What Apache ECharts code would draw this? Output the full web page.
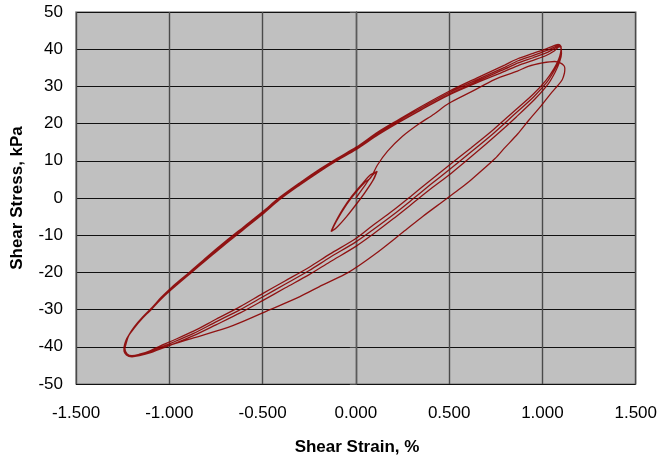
<!DOCTYPE html>
<html>
<head>
<meta charset="utf-8">
<script src="https://cdn.jsdelivr.net/npm/echarts@6/dist/echarts.min.js"></script>
<style>
html,body{margin:0;padding:0;background:#fff;}
#chart{width:660px;height:457px;}
</style>
</head>
<body>
<div id="chart"></div>
<script>
// Axis ticks
const xTicks = [-1.5, -1.0, -0.5, 0.0, 0.5, 1.0, 1.5];
const yTicks = [-50, -40, -30, -20, -10, 0, 10, 20, 30, 40, 50];

// Small-strain cycles around the origin
const smallLoop = [[0,0],[0.04,2.8],[0.08,5.6],[0.105,6.9],[0.114,7.2],[0.095,5.0],[0.05,1.6],[0,-1.8],[-0.05,-5.0],[-0.10,-7.8],[-0.125,-8.8],[-0.133,-9.0],[-0.115,-7.0],[-0.07,-3.0],[-0.02,0.6],[0.03,3.6],[0.08,6.3],[0.112,7.1],[0.09,4.6],[0.045,1.2],[-0.01,-2.5],[-0.06,-5.6],[-0.11,-8.3],[-0.13,-8.9],[-0.105,-6.3],[-0.05,-1.8],[0.0,1.5],[0.05,4.3]];

// First large loading
const virginLoad = [[0.079,5.4],[0.115,8.8],[0.17,12.6],[0.25,16.6],[0.337,19.9],[0.42,22.6],[0.497,25.4],[0.62,28.6],[0.746,31.9],[0.866,34.1],[0.924,35.4],[1.00,36.3],[1.066,36.7],[1.095,36.3],[1.115,35.6],[1.12,34.8]];

// First unloading (outer thin branch)
const outerUnload = [[1.118,33.6],[1.106,31.8],[1.08,30.1],[1.05,28.4],[0.995,24.9],[0.93,21.1],[0.867,17.2],[0.80,13.6],[0.746,10.6],[0.62,5.0],[0.55,2.2],[0.47,-0.8],[0.36,-4.9],[0.25,-9.3],[0.10,-15.2],[-0.04,-20.0],[-0.18,-23.4],[-0.30,-26.5],[-0.46,-30.0],[-0.66,-34.3],[-0.87,-37.6],[-1.05,-40.4],[-1.13,-41.8],[-1.19,-42.6],[-1.225,-42.3],[-1.242,-41.3]];

// Reloading branches
const up1 = [[-1.243,-40.6],[-1.228,-37.8],[-1.195,-35.3],[-1.155,-32.8],[-1.10,-30.2],[-1.05,-27.5],[-0.99,-24.7],[-0.89,-20.4],[-0.80,-16.6],[-0.70,-12.4],[-0.60,-8.4],[-0.50,-4.4],[-0.41,-0.5],[-0.30,3.5],[-0.195,7.1],[-0.10,10.1],[0,13.0],[0.12,17.0],[0.23,20.3],[0.35,23.7],[0.50,27.7],[0.65,31.0],[0.80,34.1],[0.87,35.6],[0.95,37.0],[1.02,38.3],[1.065,39.6],[1.09,40.6],[1.10,40.4]];
const up2 = [[-1.24,-40.4],[-1.224,-37.5],[-1.19,-35.1],[-1.15,-32.7],[-1.098,-30.0],[-1.049,-27.3],[-0.99,-24.5],[-0.89,-20.2],[-0.80,-16.4],[-0.70,-12.2],[-0.60,-8.2],[-0.50,-4.2],[-0.41,-0.4],[-0.30,3.6],[-0.195,7.2],[-0.10,10.2],[0,13.1],[0.12,17.1],[0.23,20.4],[0.35,23.8],[0.50,27.9],[0.65,31.4],[0.80,34.7],[0.87,36.3],[0.95,37.7],[1.02,39.0],[1.065,40.2],[1.09,41.0],[1.10,40.6]];
const up3 = [[-1.238,-40.2],[-1.22,-37.3],[-1.188,-34.8],[-1.148,-32.4],[-1.095,-29.7],[-1.046,-27.0],[-0.988,-24.2],[-0.888,-19.9],[-0.80,-16.1],[-0.70,-11.9],[-0.60,-7.9],[-0.50,-3.9],[-0.41,-0.1],[-0.30,3.9],[-0.195,7.5],[-0.10,10.5],[0,13.4],[0.12,17.5],[0.23,20.8],[0.35,24.2],[0.50,28.3],[0.65,31.8],[0.80,35.2],[0.87,36.9],[0.95,38.3],[1.02,39.6],[1.065,40.6],[1.09,41.2],[1.10,40.7]];
const up4 = [[-1.236,-40.0],[-1.218,-37.0],[-1.186,-34.5],[-1.145,-32.1],[-1.092,-29.4],[-1.043,-26.7],[-0.985,-23.9],[-0.886,-19.7],[-0.80,-15.9],[-0.70,-11.7],[-0.60,-7.7],[-0.50,-3.7],[-0.41,0.1],[-0.30,4.1],[-0.195,7.7],[-0.10,10.7],[0,13.6],[0.12,17.8],[0.23,21.1],[0.35,24.6],[0.50,28.7],[0.65,32.3],[0.80,35.8],[0.87,37.5],[0.95,38.9],[1.02,40.1],[1.065,41.0],[1.085,41.3],[1.097,40.9]];

// Unloading branches
const down1 = [[1.10,40.4],[1.102,38.8],[1.092,36.6],[1.068,33.8],[1.03,30.6],[0.96,26.6],[0.86,21.8],[0.75,16.8],[0.63,11.6],[0.51,6.6],[0.40,2.4],[0.30,-1.6],[0.20,-5.6],[0.09,-9.8],[0,-13.0],[-0.14,-17.2],[-0.25,-20.6],[-0.38,-24.2],[-0.50,-27.6],[-0.62,-30.9],[-0.75,-34.1],[-0.87,-37.0],[-0.99,-39.5],[-1.05,-40.6],[-1.10,-41.6],[-1.16,-42.4],[-1.20,-42.7],[-1.23,-42.2],[-1.243,-40.8]];
const down2 = [[1.097,40.6],[1.10,39.0],[1.09,37.0],[1.065,34.4],[1.025,31.2],[0.955,27.3],[0.85,22.5],[0.74,17.5],[0.62,12.5],[0.50,7.6],[0.40,3.6],[0.30,-0.5],[0.20,-4.5],[0.09,-8.6],[0,-11.8],[-0.14,-16.0],[-0.25,-19.5],[-0.38,-23.2],[-0.50,-26.6],[-0.62,-30.0],[-0.75,-33.3],[-0.87,-36.4],[-0.99,-39.0],[-1.05,-40.2],[-1.10,-41.3],[-1.16,-42.2],[-1.20,-42.6],[-1.228,-42.1],[-1.24,-40.6]];
const down3 = [[1.097,40.7],[1.098,39.2],[1.087,37.3],[1.062,34.8],[1.02,31.7],[0.95,27.9],[0.845,23.2],[0.735,18.3],[0.615,13.4],[0.495,8.6],[0.395,4.6],[0.295,0.5],[0.195,-3.5],[0.085,-7.6],[0,-10.9],[-0.14,-15.1],[-0.25,-18.6],[-0.38,-22.3],[-0.50,-25.7],[-0.62,-29.2],[-0.75,-32.6],[-0.87,-35.8],[-0.99,-38.5],[-1.05,-39.8],[-1.10,-41.0],[-1.16,-42.0],[-1.20,-42.4],[-1.226,-41.9],[-1.238,-40.4]];

const path = [].concat(smallLoop, virginLoad, outerUnload, up1, down1, up2, down2, up3, down3, up4);

const FONT = "'Liberation Sans', Arial, sans-serif";
const chart = echarts.init(document.getElementById('chart'), null, {renderer: 'canvas'});
chart.setOption({
  animation: false,
  backgroundColor: '#ffffff',
  grid: {left: 76, right: 21, top: 12, bottom: 73, show: true, backgroundColor: '#c0c0c0', borderColor: '#8c8c8c', borderWidth: 1.5},
  xAxis: {
    type: 'value', min: xTicks[0], max: xTicks[xTicks.length - 1], interval: 0.5,
    axisLine: {show: false},
    axisTick: {show: false},
    axisLabel: {margin: 21, fontFamily: FONT, fontSize: 17, color: '#000', formatter: v => v.toFixed(3)},
    splitLine: {show: true, lineStyle: {color: '#4a4a4a', width: 1.4}}
  },
  yAxis: {
    type: 'value', min: yTicks[0], max: yTicks[yTicks.length - 1], interval: 10,
    axisLine: {show: true, lineStyle: {color: '#5a5a5a', width: 1.4}},
    axisTick: {show: true, length: 6, lineStyle: {color: '#4a4a4a', width: 1}},
    axisLabel: {margin: 13, fontFamily: FONT, fontSize: 17, color: '#000'},
    splitLine: {show: true, lineStyle: {color: '#111', width: 1}}
  },
  graphic: [
    {type: 'text', style: {text: 'Shear Strain, %', font: 'bold 17px ' + FONT, fill: '#000', x: 357, y: 447, textAlign: 'center', textVerticalAlign: 'middle'}},
    {type: 'text', x: 17, y: 198, rotation: Math.PI / 2, style: {text: 'Shear Stress, kPa', font: 'bold 17px ' + FONT, fill: '#000', x: 0, y: 0, textAlign: 'center', textVerticalAlign: 'middle'}}
  ],
  series: [{
    type: 'line',
    data: path,
    showSymbol: false,
    smooth: 0.3,
    lineStyle: {color: '#8b0000', width: 1.3, opacity: 0.9},
    z: 5
  }]
});
</script>
</body>
</html>
